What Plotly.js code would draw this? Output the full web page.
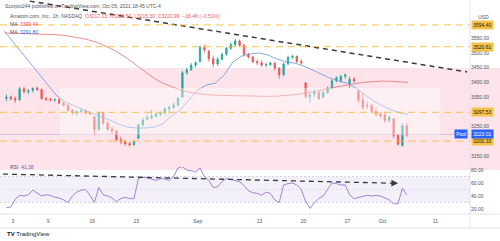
<!DOCTYPE html>
<html><head><meta charset="utf-8">
<script src="https://cdn.plot.ly/plotly-3.0.1.min.js"></script>
<style>html,body{margin:0;padding:0;background:#fff;}#chart{width:500px;height:241px;}</style>
</head><body><div id="chart"></div>
<script>
// ---- data (two bars per trading day, day index 0 = Aug 2, 2021) ----
const opens  = [3345,3350,3345,3340,3378,3368,3372,3380,3375,3345,3342,3340,3341,3330,3322,3305,3296,3300,3303,3295,
                3283,3240,3297,3262,3241,3235,3205,3198,3192,3188,3210,3255,3275,3280,3285,3292,3296,3310,3315,3322,
                3350,3432,3442,3458,3470,3518,3505,3480,3462,3478,3495,3515,3528,3540,3525,3495,3486,3470,3466,3458,
                3460,3465,3448,3425,3462,3485,3488,3470,3398,3352,3360,3365,3350,3365,3380,3405,3405,3420,3395,3410,
                3370,3340,3322,3320,3301,3292,3289,3270,3276,3220,3185,3252];
const highs  = [3360,3355,3352,3385,3384,3376,3382,3386,3378,3350,3348,3345,3345,3335,3325,3310,3305,3310,3308,3300,
                3285,3300,3300,3268,3250,3240,3215,3205,3200,3203,3260,3280,3290,3306,3298,3300,3315,3320,3330,3350,
                3440,3450,3465,3472,3525,3528,3510,3490,3485,3500,3520,3535,3548,3545,3530,3500,3490,3478,3475,3466,
                3470,3468,3450,3468,3490,3492,3490,3478,3400,3365,3376,3370,3370,3385,3410,3420,3425,3430,3420,3418,
                3372,3364,3335,3326,3312,3300,3300,3285,3278,3225,3260,3262];
const lows   = [3335,3338,3330,3338,3362,3360,3365,3370,3340,3336,3335,3334,3326,3318,3300,3290,3286,3295,3290,3288,
                3220,3236,3255,3235,3225,3200,3190,3185,3182,3185,3208,3250,3270,3275,3280,3285,3292,3300,3310,3320,
                3348,3425,3438,3450,3468,3500,3470,3450,3455,3475,3490,3510,3520,3520,3488,3480,3465,3458,3452,3450,
                3455,3440,3412,3420,3458,3478,3465,3460,3345,3331,3350,3340,3345,3360,3378,3400,3398,3412,3380,3398,
                3330,3306,3310,3295,3285,3280,3262,3265,3210,3185,3183,3215];
const closes = [3350,3345,3340,3378,3368,3372,3380,3375,3345,3342,3340,3341,3330,3322,3305,3296,3300,3303,3295,3293,
                3240,3297,3262,3241,3235,3205,3198,3192,3188,3199,3255,3272,3280,3285,3292,3296,3310,3315,3322,3346,
                3432,3442,3458,3466,3518,3510,3480,3462,3478,3495,3515,3528,3540,3525,3495,3486,3470,3466,3458,3460,
                3465,3448,3425,3462,3485,3488,3470,3465,3352,3356,3365,3344,3365,3380,3405,3416,3420,3425,3410,3405,
                3340,3315,3320,3301,3292,3286,3270,3282,3220,3190,3252,3221];
const rsi    = [22,23,35,41,40,42,49,44,40,42,41,38,37,34,30,40,46,49,50,41,
                30,53,42,40,37,31,36,38,36,36,67,69,68,66,64,67,66,64,70,83,
                85,80,79,77,83,70,64,53,54,62,67,65,64,62,56,48,45,44,41,46,
                44,34,30,57,59,60,57,50,32,21,30,36,40,50,60,59,57,57,42,36,
                38,40,41,40,41,40,37,34,28,28,52,41.38];
// moving averages, one reading per trading day plus the last bar
const maRed  = [3567,3566,3566,3565,3564,3563,3561,3558,3554,3548,3540,3530,3516,3500,3480,3458,3434,3414,3397,3385,
                3374,3366,3361,3358,3356,3355,3354,3353,3352,3352,3352,3353,3355,3358,3362,3367,3373,3380,3386,3391,
                3396,3400,3402,3404,3403,3401,3399.44];
const maBlue = [3574,3537,3499,3462,3428,3391,3353,3333,3320,3306,3296,3282,3272,3258,3248,3245,3245,3248,3258,3286,
                3306,3340,3374,3391,3397,3425,3469,3489,3496,3499,3492,3479,3469,3465,3455,3442,3428,3414,3404,3397,
                3380,3357,3336,3320,3306,3296,3291.80];
const maLastDay = 45.9;
// levels and drawings
const levels = [3594.40, 3520.61, 3297.53, 3200.33];
const poolPrice = 3223.01;
const trendDays = [2.9, 52.6], trendPrices = [3675, 3435];
const rsiArrowDays = [-0.14, 44.75], rsiArrowVals = [73.7, 59.5];
// axes labels
const timeTickDays = [1,5,10,15,22,29,34,39,43,49];
const timeTickText = ['3','9','16','23','Sep','13','20','27','Oct','11'];
const priceTicks = [3550,3500,3450,3400,3350,3250,3150];
const rsiTicks = [20,40,60,80];

const barX = closes.map((_, i) => i * 0.5 + 0.25);
const maX = maRed.map((_, i) => i < maRed.length - 1 ? i : maLastDay);

const H = 214; // plot height in px
const pf = px => 1 - px / H; // paper y from pixel (layout helper)
const FONT = 'Liberation Sans, Arial, sans-serif';

const traces = [
  {type:'scatter', mode:'lines', x:maX, y:maRed, line:{color:'rgba(229,115,115,0.8)', width:1}, hoverinfo:'skip'},
  {type:'scatter', mode:'lines', x:maX, y:maBlue, line:{color:'rgba(100,150,225,0.8)', width:1}, hoverinfo:'skip'},
  {type:'candlestick', x:barX, open:opens, high:highs, low:lows, close:closes,
   increasing:{line:{color:'#26a69a', width:0.8}, fillcolor:'#26a69a'},
   decreasing:{line:{color:'#ef5350', width:0.8}, fillcolor:'#ef5350'},
   whiskerwidth:0, hoverinfo:'skip'},
  {type:'scatter', mode:'lines', x:barX, y:rsi, yaxis:'y2', line:{color:'#9c86d4', width:1}, hoverinfo:'skip'},
  {type:'scatter', mode:'lines', x:trendDays, y:trendPrices, line:{color:'#3a3a3a', width:1.5, dash:'5px,4px'}, hoverinfo:'skip'},
  {type:'scatter', mode:'lines', x:rsiArrowDays, y:rsiArrowVals, yaxis:'y2', line:{color:'#3a3a3a', width:1.3, dash:'5px,4px'}, hoverinfo:'skip'}
];

const shapes = [
  {type:'rect', xref:'paper', yref:'paper', x0:0, x1:500/470, y0:pf(170), y1:pf(68), fillcolor:'#fce4ea', line:{width:0}, layer:'below'},
  {type:'rect', xref:'paper', yref:'y2', x0:0, x1:1, y0:30, y1:70, fillcolor:'rgba(126,87,194,0.09)', line:{width:0}, layer:'below'},
  {type:'line', xref:'paper', yref:'y2', x0:0, x1:1, y0:70, y1:70, line:{color:'rgba(120,123,134,0.35)', width:0.8, dash:'2px,2px'}, layer:'below'},
  {type:'line', xref:'paper', yref:'y2', x0:0, x1:1, y0:50, y1:50, line:{color:'rgba(120,123,134,0.2)', width:0.8, dash:'2px,2px'}, layer:'below'},
  {type:'line', xref:'paper', yref:'y2', x0:0, x1:1, y0:30, y1:30, line:{color:'rgba(120,123,134,0.35)', width:0.8, dash:'2px,2px'}, layer:'below'},
  {type:'line', xref:'paper', yref:'y', x0:0, x1:1, y0:poolPrice, y1:poolPrice, line:{color:'rgba(120,110,200,0.4)', width:0.8}},
  {type:'line', xref:'paper', yref:'paper', x0:1, x1:1, y0:pf(228), y1:1, line:{color:'#e0e3eb', width:1}},
  {type:'line', xref:'paper', yref:'paper', x0:0, x1:500/470, y0:0, y1:0, line:{color:'#e0e3eb', width:1}},
  {type:'line', xref:'paper', yref:'paper', x0:0, x1:500/470, y0:pf(228), y1:pf(228), line:{color:'#e0e3eb', width:1}},
  {type:'rect', xref:'paper', yref:'paper', x0:60/470, x1:440/470, y0:pf(135), y1:pf(88), fillcolor:'rgba(255,255,255,0.4)', line:{width:0}, layer:'above'}
];
levels.forEach(v => shapes.push({type:'line', xref:'paper', yref:'y', x0:0, x1:1, y0:v, y1:v,
  line:{color:'rgba(245,185,60,0.7)', width:1.3, dash:'7px,5px'}}));

const ann = [];
const txt = (x, y, text, size, color) => ({xref:'paper', yref:'paper', x:x/470, y:pf(y), text:text,
  showarrow:false, xanchor:'left', yanchor:'middle', font:{family:FONT, size:size, color:color}});
ann.push(txt(3, 6, 'Scorpio244 published on TradingView.com, Oct 05, 2021 18:45 UTC-4', 5, '#50535e'));
ann.push(txt(8, 16, 'Amazon.com, Inc., 1h, NASDAQ  <span style="color:#ef5350">O3217.13  H3229.50  L3215.30  C3220.99  −16.46 (−0.51%)</span>', 5, '#50535e'));
ann.push(txt(8, 24, 'MA  <span style="color:#ef5350">3399.44</span>', 5, '#50535e'));
ann.push(txt(8, 32, 'MA  <span style="color:#2962ff">3291.80</span>', 5, '#50535e'));
ann.push(txt(8, 167, 'RSI  <span style="color:#7e57c2">41.38</span>', 5, '#50535e'));
ann.push(txt(476, 17, 'USD', 5, '#50535e'));
ann.push(txt(5, 234, '<b>TV</b> TradingView', 6, '#131722'));
levels.forEach(v => ann.push({xref:'paper', yref:'y', x:1 + 1/470, y:v, text:v.toFixed(2), showarrow:false,
  xanchor:'left', yanchor:'middle', bgcolor:'#f7c244', borderpad:1.2, font:{family:FONT, size:5, color:'#131722'}}));
ann.push({xref:'paper', yref:'y', x:1 + 1/470, y:poolPrice, text:poolPrice.toFixed(2), showarrow:false,
  xanchor:'left', yanchor:'middle', bgcolor:'#2962ff', borderpad:1.2, font:{family:FONT, size:5, color:'#ffffff'}});
ann.push({xref:'paper', yref:'y', x:1 - 2/470, y:poolPrice, text:'Pool', showarrow:false,
  xanchor:'right', yanchor:'middle', bgcolor:'#2962ff', borderpad:1.2, font:{family:FONT, size:5, color:'#ffffff'}});
ann.push({xref:'x', yref:'y2', axref:'x', ayref:'y2', x:rsiArrowDays[1], y:rsiArrowVals[1],
  ax:rsiArrowDays[1] - 0.8, ay:rsiArrowVals[1] + 0.25, text:'', showarrow:true, arrowhead:2, arrowsize:1.1, arrowwidth:1.2, arrowcolor:'#3a3a3a'});

const layout = {
  width:500, height:241, margin:{l:0, r:30, t:0, b:27},
  paper_bgcolor:'#ffffff', plot_bgcolor:'rgba(0,0,0,0)', showlegend:false,
  font:{family:FONT, size:5, color:'#50535e'},
  boxgap:0.55,
  xaxis:{range:[-0.477, 52.93], anchor:'y2', tickvals:timeTickDays, ticktext:timeTickText,
         showgrid:false, zeroline:false, showline:false, ticks:'', ticklabelstandoff:3, tickfont:{size:5, color:'#50535e'},
         rangeslider:{visible:false}, fixedrange:true},
  yaxis:{domain:[pf(167), 1], range:[3112.7, 3678.8], side:'right', tickvals:priceTicks,
         ticktext:priceTicks.map(v => v.toFixed(2)), showgrid:false, zeroline:false, ticks:'',
         tickfont:{size:5, color:'#50535e'}},
  yaxis2:{domain:[0, pf(167)], range:[12.3, 84.6], side:'right', tickvals:rsiTicks,
          ticktext:rsiTicks.map(v => v.toFixed(2)), showgrid:false, zeroline:false, ticks:'',
          tickfont:{size:5, color:'#50535e'}},
  shapes:shapes, annotations:ann
};
Plotly.newPlot('chart', traces, layout, {staticPlot:true, displayModeBar:false});
</script></body></html>
